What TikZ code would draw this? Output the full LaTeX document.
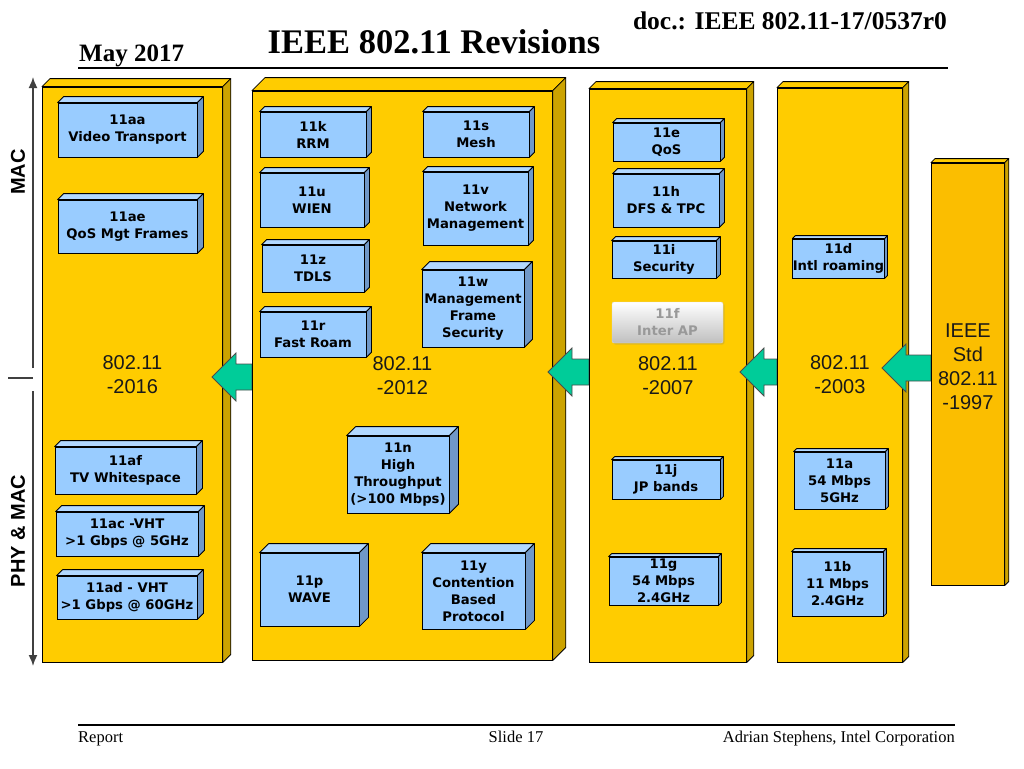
\documentclass[tikz,border=0pt]{standalone}
\usepackage{fontspec}
\setmainfont{Liberation Serif}
\newfontfamily\boxfont{DejaVu Sans}
\newfontfamily\revfont{Liberation Sans}
\usepackage{xcolor}
\usepackage{tikz}
\usetikzlibrary{shapes, arrows, arrows.meta, positioning, shadows}
\definecolor{gold}{RGB}{255,204,0}
\definecolor{goldside}{RGB}{204,163,0}
\definecolor{gold97}{RGB}{251,190,0}
\definecolor{sky}{RGB}{153,204,255}
\definecolor{skylight}{RGB}{178,216,255}
\definecolor{skyside}{RGB}{112,152,200}
\definecolor{mint}{RGB}{0,204,153}
\definecolor{axisgrey}{RGB}{64,64,64}
\tikzstyle{revision} = [rectangle, draw=black, line width=0.8pt, fill=gold, inner sep=0pt, align=center, text=black!90, font=\revfont\fontsize{20}{24}\selectfont]
\tikzstyle{amendment} = [rectangle, draw=black, line width=0.8pt, fill=sky, inner sep=0pt, align=center, font=\boxfont\bfseries\fontsize{13.2}{17}\selectfont]
\tikzstyle{ghostbox} = [rectangle, rounded corners=2pt, draw=black!15, top color=white, bottom color=black!25, inner sep=0pt, align=center, text=black!40, font=\boxfont\bfseries\fontsize{13.2}{17}\selectfont, drop shadow={opacity=0.25, shadow xshift=1.5pt, shadow yshift=-1.5pt}]
\tikzstyle{topgold} = [draw=black, line width=0.8pt, fill=gold, line join=round]
\tikzstyle{sidegold} = [draw=black, line width=0.8pt, fill=goldside, line join=round]
\tikzstyle{topsky} = [draw=black, line width=0.8pt, fill=skylight, line join=round]
\tikzstyle{sidesky} = [draw=black, line width=0.8pt, fill=skyside, line join=round]
\tikzstyle{rollarrow} = [draw=black!70, line width=0.8pt, fill=mint, line join=miter]
\tikzstyle{axisline} = [line width=1.6pt, axisgrey]
\tikzstyle{axislabel} = [rotate=90, inner sep=0pt, font=\revfont\bfseries\fontsize{20}{24}\selectfont]
% top and right faces of a block (node, depth, top style, side style)
\newcommand{\extrude}[4]{%
  \draw[#3] (#1.north west) -- ([shift={(#2pt,#2pt)}]#1.north west) -- ([shift={(#2pt,#2pt)}]#1.north east) -- (#1.north east) -- cycle;
  \draw[#4] (#1.north east) -- ([shift={(#2pt,#2pt)}]#1.north east) -- ([shift={(#2pt,#2pt)}]#1.south east) -- (#1.south east) -- cycle;}
% block arrow from the left edge (#2) of a column to its tip (#1)
\newcommand{\rollup}[2]{%
  \draw[rollarrow] (#1) -- ([shift={(24pt,24pt)}]#1) -- ([shift={(24pt,13pt)}]#1) -- ([yshift=13pt]#1 -| #2) -- ([yshift=-13pt]#1 -| #2) -- ([shift={(24pt,-13pt)}]#1) -- ([shift={(24pt,-24pt)}]#1) -- cycle;}

\begin{document}
\begin{tikzpicture}[x={(1pt,0)}, y={(0,-1pt)}]
    \useasboundingbox (0,0) rectangle (1024,768);
    % Header and footer
    \node (date) [anchor=base west, inner sep=0pt, font=\bfseries\fontsize{25}{28}\selectfont] at (79,61) {May 2017};
    \node (title) [anchor=base, inner sep=0pt, font=\bfseries\fontsize{34.5}{38}\selectfont] at (434,53) {IEEE 802.11 Revisions};
    \node (docid) [anchor=base east, inner sep=0pt, font=\bfseries\fontsize{25.5}{28}\selectfont] at (947,30) {doc.: IEEE 802.11-17/0537r0};
    \draw[line width=1.6pt] (78,68) -- (948,68);
    \draw[line width=1.6pt] (78,725) -- (955,725);
    \node (rep) [anchor=base west, inner sep=0pt, font=\fontsize{16.5}{18}\selectfont] at (78,742) {Report};
    \node (slide) [anchor=base, inner sep=0pt, font=\fontsize{16.5}{18}\selectfont] at (516,742) {Slide 17};
    \node (author) [anchor=base east, inner sep=0pt, font=\fontsize{16.5}{18}\selectfont] at (955,742) {Adrian Stephens, Intel Corporation};

    % MAC / PHY axis on the left
    \coordinate (mactop) at (33,77);
    \coordinate (macend) at (33,368);
    \coordinate (phystart) at (33,391);
    \coordinate (phybot) at (33,666);
    \coordinate (tickl) at (8,378);
    \coordinate (tickr) at (33,378);
    \draw[axisline, -{Latex[length=11pt, width=9pt]}] (macend) -- (mactop);
    \draw[axisline, -{Latex[length=11pt, width=9pt]}] (phystart) -- (phybot);
    \draw[axisline] (tickl) -- (tickr);
    \node (mac) [axislabel] at (18,172) {MAC};
    \node (phymac) [axislabel] at (18,531) {PHY \& MAC};

    % Left edges of the columns and tips of the roll-up arrows
    \coordinate (l2016) at (42,374.5);
    \coordinate (l2012) at (252,375.5);
    \coordinate (l2007) at (589,375.5);
    \coordinate (l2003) at (777,375);
    \coordinate (l1997) at (931,374);
    \coordinate (t2016) at (212,377);
    \coordinate (t2012) at (548,372);
    \coordinate (t2007) at (740,372);
    \coordinate (t2003) at (882,368);

    % 802.11-2016
    \node (c2016) [revision, anchor=west, minimum width=180pt, minimum height=575pt] at (l2016) {802.11\\-2016};
    \extrude{c2016}{8}{topgold}{sidegold}
    \node (aa) [amendment, minimum width=139pt, minimum height=54pt] at (127.5,130) {11aa\\Video Transport};
    \node (ae) [amendment, minimum width=139pt, minimum height=53pt] at (127.5,226.5) {11ae\\QoS Mgt Frames};
    \node (af) [amendment, minimum width=141pt, minimum height=47pt] at (125.5,470.5) {11af\\TV Whitespace};
    \node (ac) [amendment, minimum width=142pt, minimum height=44pt] at (127,534) {11ac -VHT\\>1 Gbps @ 5GHz};
    \node (ad) [amendment, minimum width=140pt, minimum height=43pt] at (127,597.5) {11ad - VHT\\>1 Gbps @ 60GHz};
    \foreach \n in {aa,ae,af,ac,ad} \extrude{\n}{6}{topsky}{sidesky};
    \rollup{t2016}{l2012}

    % 802.11-2012
    \node (c2012) [revision, anchor=west, minimum width=300pt, minimum height=569pt] at (l2012) {802.11\\-2012};
    \extrude{c2012}{13}{topgold}{sidegold}
    \node (k) [amendment, minimum width=106pt, minimum height=45pt] at (313,134.5) {11k\\RRM};
    \node (s) [amendment, minimum width=106pt, minimum height=45pt] at (476,134.5) {11s\\Mesh};
    \node (u) [amendment, minimum width=104pt, minimum height=54pt] at (312,200) {11u\\WIEN};
    \node (v) [amendment, minimum width=105pt, minimum height=73pt] at (475.5,208.5) {11v\\Network\\Management};
    \node (z) [amendment, minimum width=102pt, minimum height=47pt] at (313,268.5) {11z\\TDLS};
    \node (w) [amendment, minimum width=102pt, minimum height=77pt] at (473,308.5) {11w\\Management\\Frame\\Security};
    \node (r) [amendment, minimum width=106pt, minimum height=45pt] at (313,334.5) {11r\\Fast Roam};
    \node (n) [amendment, minimum width=102pt, minimum height=77pt] at (398,474.5) {11n\\High\\Throughput\\(>100 Mbps)};
    \node (p) [amendment, minimum width=99pt, minimum height=73pt] at (309.5,589.5) {11p\\WAVE};
    \node (y) [amendment, minimum width=103pt, minimum height=76pt] at (473.5,591) {11y\\Contention\\Based\\Protocol};
    \foreach \n/\d in {k/5,s/5,u/5,v/5,z/5,w/8,r/5,n/9,p/9,y/9} \extrude{\n}{\d}{topsky}{sidesky};
    \rollup{t2012}{l2007}

    % 802.11-2007
    \node (c2007) [revision, anchor=west, minimum width=157pt, minimum height=573pt] at (l2007) {802.11\\-2007};
    \extrude{c2007}{7}{topgold}{sidegold}
    \node (e) [amendment, minimum width=107pt, minimum height=38pt] at (666.5,142) {11e\\QoS};
    \node (h) [amendment, minimum width=106pt, minimum height=53pt] at (666,200.5) {11h\\DFS \& TPC};
    \node (i) [amendment, minimum width=104pt, minimum height=37pt] at (664,259.5) {11i\\Security};
    \node (f) [ghostbox, minimum width=111pt, minimum height=41pt] at (667.5,322.5) {11f\\Inter AP};
    \node (j) [amendment, minimum width=108pt, minimum height=39pt] at (666,479.5) {11j\\JP bands};
    \node (g) [amendment, minimum width=109pt, minimum height=48pt] at (663.5,581) {11g\\54 Mbps\\2.4GHz};
    \foreach \n/\d in {e/4,h/5,i/4,j/3,g/3} \extrude{\n}{\d}{topsky}{sidesky};
    \rollup{t2007}{l2003}

    % 802.11-2003
    \node (c2003) [revision, anchor=west, minimum width=125pt, minimum height=574pt] at (l2003) {802.11\\-2003};
    \extrude{c2003}{6}{topgold}{sidegold}
    \node (d) [amendment, minimum width=91pt, minimum height=39pt] at (838.5,258.5) {11d\\Intl roaming};
    \node (a) [amendment, minimum width=91pt, minimum height=57pt] at (839.5,480.5) {11a\\54 Mbps\\5GHz};
    \node (b) [amendment, minimum width=91pt, minimum height=64pt] at (837.5,584) {11b\\11 Mbps\\2.4GHz};
    \foreach \n in {d,a,b} \extrude{\n}{3}{topsky}{sidesky};
    \rollup{t2003}{l1997}

    % IEEE Std 802.11-1997
    \node (c1997) [revision, anchor=west, fill=gold97, minimum width=73pt, minimum height=422pt] at (l1997) {IEEE\\Std\\802.11\\ -1997\\[-10pt]\mbox{}};
    \extrude{c1997}{4}{topgold}{sidegold}
\end{tikzpicture}
\end{document}
